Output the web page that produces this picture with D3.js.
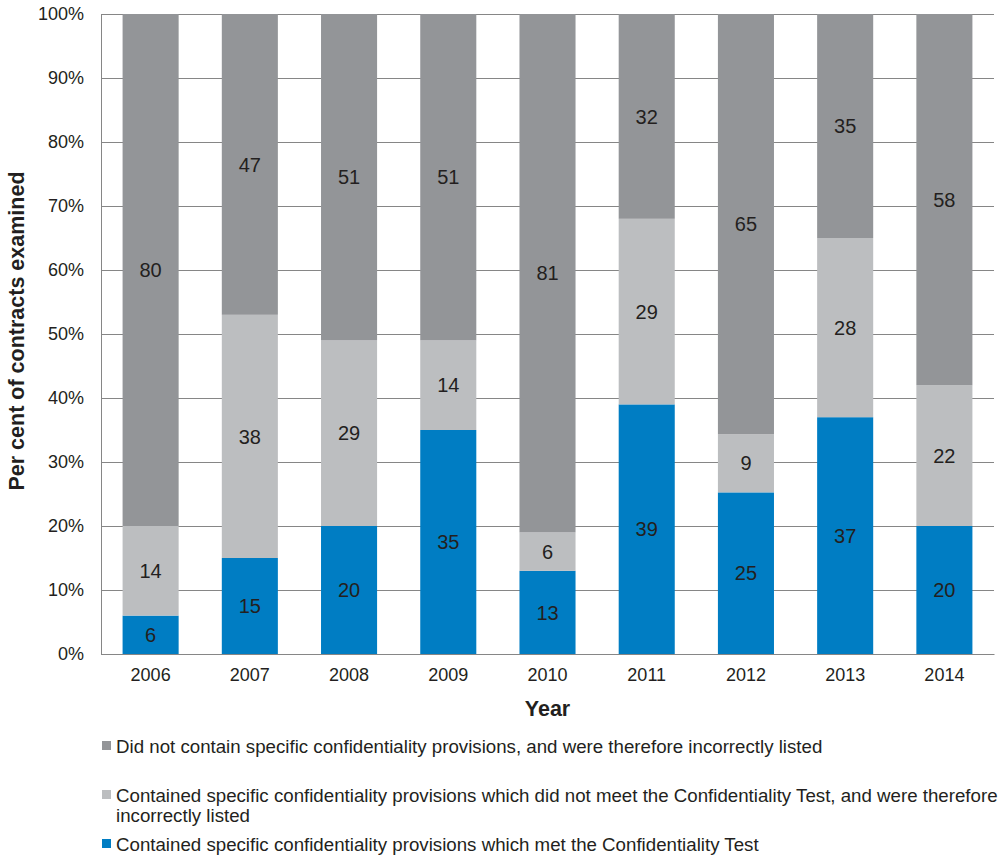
<!DOCTYPE html>
<html>
<head>
<meta charset="utf-8">
<script src="https://cdn.jsdelivr.net/npm/d3@7"></script>
<style>
  body { margin: 0; background: #fff; }
  text { font-family: "Liberation Sans", Arial, sans-serif; fill: #231f20; }
</style>
</head>
<body>
<div id="chart"></div>
<script>
// data
var years = ["2006", "2007", "2008", "2009", "2010", "2011", "2012", "2013", "2014"];
var metTest = [6, 15, 20, 35, 13, 39, 25, 37, 20];
var notMetTest = [14, 38, 29, 14, 6, 29, 9, 28, 22];
var noProvisions = [80, 47, 51, 51, 81, 32, 65, 35, 58];
var yTicks = [0, 10, 20, 30, 40, 50, 60, 70, 80, 90, 100];

var seriesKeys = ["met", "notMet", "none"];
var colors = { met: "#007dc3", notMet: "#bcbec0", none: "#939598" };
var legendItems = [
  { key: "none", lines: ["Did not contain specific confidentiality provisions, and were therefore incorrectly listed"] },
  { key: "notMet", lines: ["Contained specific confidentiality provisions which did not meet the Confidentiality Test, and were therefore", "incorrectly listed"] },
  { key: "met", lines: ["Contained specific confidentiality provisions which met the Confidentiality Test"] }
];

var rows = years.map(function(y, i) {
  return { year: y, met: metTest[i], notMet: notMetTest[i], none: noProvisions[i] };
});

var W = 1001, H = 856;
var margin = { top: 14, right: 7, bottom: 202, left: 101 };
var width = W - margin.left - margin.right;
var height = H - margin.top - margin.bottom;

var svg = d3.select("#chart").append("svg")
  .attr("width", W)
  .attr("height", H);

var g = svg.append("g")
  .attr("transform", "translate(" + margin.left + "," + margin.top + ")");

var x = d3.scaleBand()
  .domain(years)
  .range([0, width])
  .paddingInner(0.435)
  .paddingOuter(0.2175);

var y = d3.scaleLinear()
  .domain([0, 100])
  .range([height, 0]);

// gridlines
g.selectAll(".grid")
  .data(yTicks)
  .enter()
  .append("line")
    .attr("x1", 0)
    .attr("x2", width)
    .attr("y1", function(d) { return Math.round(y(d)) + 0.5; })
    .attr("y2", function(d) { return Math.round(y(d)) + 0.5; })
    .attr("stroke", "#868686")
    .attr("stroke-width", 1);

var stack = d3.stack().keys(seriesKeys).offset(d3.stackOffsetExpand);
var stacked = stack(rows);

var layers = g.selectAll(".layer")
  .data(stacked)
  .enter()
  .append("g")
    .attr("fill", function(d) { return colors[d.key]; });

layers.selectAll("rect")
  .data(function(d) { return d; })
  .enter()
  .append("rect")
    .attr("x", function(d) { return x(d.data.year); })
    .attr("width", x.bandwidth())
    .attr("y", function(d) { return y(d[1] * 100); })
    .attr("height", function(d) { return y(d[0] * 100) - y(d[1] * 100); });

// segment labels
stacked.forEach(function(layer) {
  g.selectAll(".lbl-" + layer.key)
    .data(layer)
    .enter()
    .append("text")
      .attr("x", function(d) { return x(d.data.year) + x.bandwidth() / 2; })
      .attr("y", function(d) { return y((d[0] + d[1]) / 2 * 100); })
      .attr("dy", "0.36em")
      .attr("text-anchor", "middle")
      .style("font-size", "20px")
      .text(function(d) { return d.data[layer.key]; });
});

// axes
var yAxis = g.append("g")
  .call(d3.axisLeft(y).tickValues(yTicks).tickSize(0).tickPadding(17)
    .tickFormat(function(d) { return d + "%"; }));
yAxis.select(".domain").attr("stroke", "#868686");
yAxis.selectAll("text").style("font-size", "18px").attr("fill", "#231f20");

var xAxis = g.append("g")
  .attr("transform", "translate(0," + height + ")")
  .call(d3.axisBottom(x).tickSize(0).tickPadding(14));
xAxis.select(".domain").attr("stroke", "#868686");
xAxis.selectAll("text").style("font-size", "18px").attr("fill", "#231f20");

// axis titles
svg.append("text")
  .attr("transform", "translate(24," + 331 + ") rotate(-90)")
  .attr("text-anchor", "middle")
  .style("font-size", "21.5px")
  .style("font-weight", "bold")
  .text("Per cent of contracts examined");

svg.append("text")
  .attr("x", margin.left + width / 2)
  .attr("y", 708)
  .attr("dy", "0.36em")
  .attr("text-anchor", "middle")
  .style("font-size", "21.5px")
  .style("font-weight", "bold")
  .text("Year");

// legend
var legendY = [746, 795, 844];
var legend = svg.append("g").attr("class", "legend");
legendItems.forEach(function(item, i) {
  legend.append("rect")
    .attr("x", 102)
    .attr("y", legendY[i] - 5)
    .attr("width", 9)
    .attr("height", 9)
    .attr("fill", colors[item.key]);
  item.lines.forEach(function(line, j) {
    legend.append("text")
      .attr("x", 116)
      .attr("y", legendY[i] + j * 20.7)
      .attr("dy", "0.36em")
      .style("font-size", "18.7px")
      .text(line);
  });
});
</script>
</body>
</html>
